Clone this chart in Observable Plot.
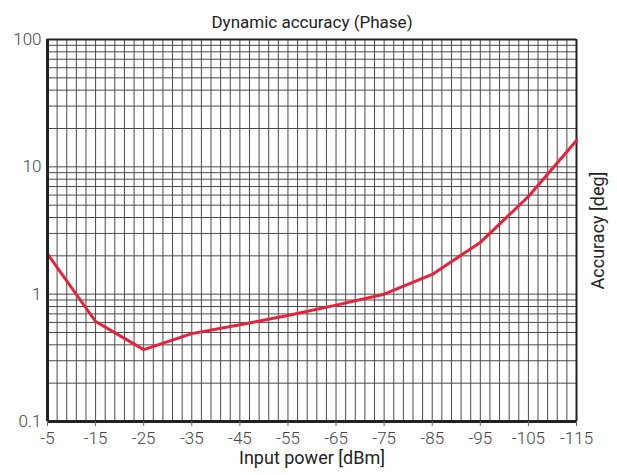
<!DOCTYPE html>
<html>
<head>
<meta charset="utf-8">
<script src="https://cdn.jsdelivr.net/npm/d3@7"></script>
<script src="https://cdn.jsdelivr.net/npm/@observablehq/plot@0.6"></script>
<style>
  html, body { margin: 0; padding: 0; background: #fff; }
  #chart svg { display: block; font-family: Roboto, "Noto Sans", sans-serif; }
</style>
</head>
<body>
<div id="chart"></div>
<script>
// Data
const inputPower = [-5, -15, -25, -35, -45, -55, -65, -75, -85, -95, -105, -115];
const accuracy   = [2.07, 0.61, 0.367, 0.49, 0.575, 0.68, 0.82, 1.0, 1.43, 2.55, 5.85, 16.1];

const xTicks = [-5, -15, -25, -35, -45, -55, -65, -75, -85, -95, -105, -115];
const yTicks = [0.1, 1, 10, 100];
const yTickLabels = ["0.1", "1", "10", "100"];

const title = "Dynamic accuracy (Phase)";
const xLabel = "Input power [dBm]";
const yLabel = "Accuracy [deg]";

const data = inputPower.map((x, i) => ({x, y: accuracy[i]}));

// grid positions: every 2 dB; log grid 1..9 per decade
const xGrid = d3.range(-5, -116, -2);
const yGrid = [];
for (const dec of [0.1, 1, 10]) for (let k = 1; k <= 9; k++) yGrid.push(+(dec * k).toPrecision(3));
yGrid.push(100);

const gridColor = "#4a4a4a";
const ink = "#222";

const chart = Plot.plot({
  width: 617,
  height: 475,
  marginLeft: 47,
  marginRight: 41,
  marginTop: 39,
  marginBottom: 54,
  style: {fontFamily: "Roboto, 'Noto Sans', sans-serif", background: "#fff", fontWeight: 300},
  x: {domain: [-5, -115], label: null},
  y: {type: "log", domain: [0.1, 100], label: null},
  marks: [
    Plot.ruleX(xGrid, {stroke: gridColor, strokeWidth: 1}),
    Plot.ruleY(yGrid, {stroke: gridColor, strokeWidth: 1}),
    Plot.ruleX([-115], {stroke: "#222", strokeWidth: 2}),
    Plot.ruleY([100], {stroke: "#222", strokeWidth: 2}),
    Plot.line(data, {x: "x", y: "y", stroke: "#e8203a", strokeWidth: 3, strokeLinejoin: "miter"}),
    Plot.ruleX([-5], {stroke: "#222", strokeWidth: 3}),
    Plot.ruleY([0.1], {stroke: "#222", strokeWidth: 3}),
    Plot.axisX({ticks: xTicks, tickFormat: d => String(d), tickSize: 5, tickPadding: 5,
      fontSize: 17, color: "#444", stroke: "#666", label: null}),
    Plot.axisY({ticks: yTicks, tickFormat: d => yTickLabels[yTicks.indexOf(d)], tickSize: 0,
      tickPadding: 6, fontSize: 17, color: "#444", label: null}),
    Plot.text([title], {frameAnchor: "top", dy: -24, fontSize: 17, fontWeight: 400, fill: ink}),
    Plot.text([xLabel], {frameAnchor: "bottom", dy: 42, fontSize: 18, fontWeight: 400, fill: ink}),
    Plot.text([yLabel], {frameAnchor: "right", dx: 22, rotate: -90, textAnchor: "middle",
      fontSize: 18, fontWeight: 400, fill: ink})
  ]
});
document.getElementById("chart").appendChild(chart);
</script>
</body>
</html>
